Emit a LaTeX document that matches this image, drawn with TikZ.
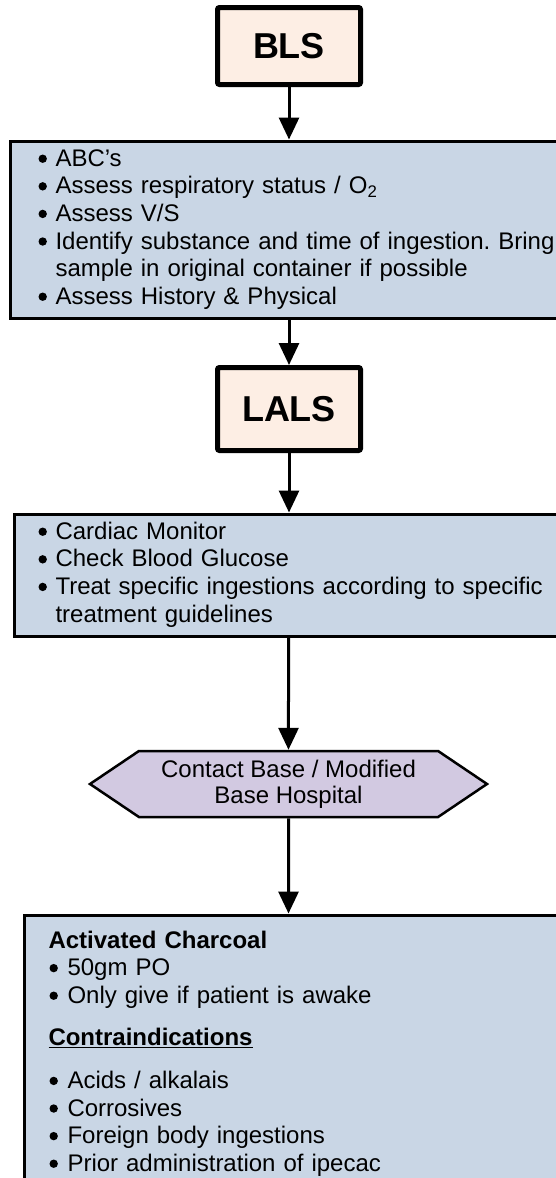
\documentclass[tikz,border=0pt]{standalone}
\usepackage{fontspec}
\setmainfont{Liberation Sans}
\usetikzlibrary{positioning,arrows.meta,shapes.symbols}

\definecolor{peach}{HTML}{FDEEE4}
\definecolor{boxblue}{HTML}{C9D6E5}
\definecolor{lavender}{HTML}{D2C9E1}

\newcommand\bigdot{\hspace{1pt}\tikz[baseline=0pt]\fill[black] (0pt,7.6pt) circle[radius=4.2pt];}
\newcommand\bul[2][18pt]{\hangindent=#1\hangafter=1\noindent\makebox[#1][l]{\bigdot}\strut#2\strut\par}

\tikzset{
	level/.style={draw, line width=5pt, rounded corners=2pt, fill=peach, minimum width=143pt, font=\bfseries\fontsize{36}{40}\selectfont},
	info/.style={draw, line width=3pt, fill=boxblue, anchor=north west, align=left, text width=560pt, inner ysep=6pt, font=\fontsize{24}{27.6}\selectfont\frenchspacing},
	hexa/.style={draw, line width=2.5pt, fill=lavender, shape=signal, signal to=west and east, signal pointer angle=68, minimum width=397pt, minimum height=66pt, align=center, font=\fontsize{24}{26}\selectfont},
	arr/.style={line width=3pt, -{Triangle[width=20pt,length=22pt]}}
}

\begin{document}
\begin{tikzpicture}[x=1pt, y=1pt]
	\useasboundingbox (0,0) rectangle (556,-1178);

	\node [level, minimum height=77pt] (bls) at (289,-46) {BLS};
	\node [info, inner xsep=27.5pt] (a) at (8.5,-139.5) {%
		\bul{ABC’s}
		\bul{Assess respiratory status / O\textsubscript{2}}
		\bul{Assess V/S}
		\bul{Identify substance and time of ingestion. Bring\newline sample in original container if possible}
		\bul{Assess History \& Physical}};
	\node [level, minimum height=83pt] (lals) at (289,-409) {LALS};
	\node [info, inner xsep=23.5pt] (b) at (12.5,-512.5) {%
		\bul{Cardiac Monitor}
		\bul{Check Blood Glucose}
		\bul{Treat specific ingestions according to specific\newline treatment guidelines}};
	\node [hexa] (base) at (288.5,-784) {Contact Base / Modified\\Base Hospital};
	\node [info, inner xsep=24.5pt, inner ysep=13.8pt] (c) at (22.5,-913.5) {%
		\noindent\strut\textbf{Activated Charcoal}\strut\par
		\bul[19pt]{50gm PO}
		\bul[19pt]{Only give if patient is awake}
		\vspace{15pt}\noindent\strut\underline{\textbf{Contraindications}}\strut\par
		\vspace{15pt}
		\bul[19pt]{Acids / alkalais}
		\bul[19pt]{Corrosives}
		\bul[19pt]{Foreign body ingestions}
		\bul[19pt]{Prior administration of ipecac}};

	\draw [arr] (bls) -- (bls |- a.north);
	\draw [arr] (lals |- a.south) -- (lals);
	\draw [arr] (lals) -- (lals |- b.north);
	\draw [arr] (base |- b.south) -- (base);
	\draw [arr] (base) -- (base |- c.north);
\end{tikzpicture}
\end{document}
